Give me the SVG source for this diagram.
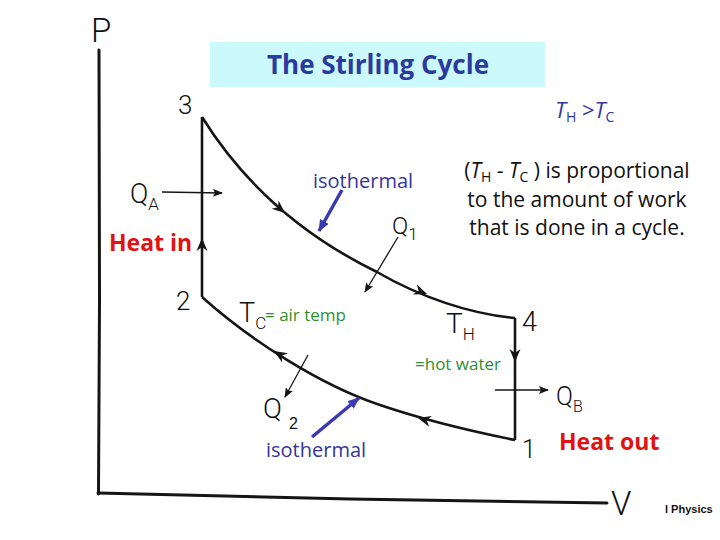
<svg xmlns="http://www.w3.org/2000/svg" width="720" height="540" viewBox="0 0 720 540">
<style>
.hand{font-family:Roboto,"Liberation Sans",sans-serif;font-weight:300;fill:#111}
.cal{font-family:"Open Sans","Liberation Sans",sans-serif}
.blue{fill:#35359a}
.green{fill:#2f8f2f}
.red{fill:#e01212;font-weight:700}
.axis{fill:none;stroke:#151515;stroke-width:3;stroke-linecap:round}
.curve{fill:none;stroke:#151515;stroke-width:2.6;stroke-linejoin:miter}
.thin{fill:none;stroke:#151515;stroke-width:1.3}
.barrow{fill:none;stroke:#3a3ab4;stroke-width:3.5}
</style>
<defs>
<path id="ah" d="M0,0 L-13,-5.5 L-9,0 L-13,5.5 Z" fill="#151515"/>
<marker id="sm" markerUnits="userSpaceOnUse" viewBox="0 0 10 8" refX="9" refY="4" markerWidth="10" markerHeight="8" orient="auto">
<path d="M0,0 L10,4 L0,8 L2,4 Z" fill="#151515"/>
</marker>
<marker id="bm" markerUnits="userSpaceOnUse" viewBox="0 0 12 10" refX="11" refY="5" markerWidth="12" markerHeight="10" orient="auto">
<path d="M0,0 L12,5 L0,10 Z" fill="#3a3ab4"/>
</marker>
</defs>

<g id="title">
<rect x="210" y="42" width="335" height="45" fill="#ccf9fc"/>
<text class="cal" x="378" y="74" text-anchor="middle" font-size="26" font-weight="700" fill="#2a3a9e">The Stirling Cycle</text>
</g>

<g id="axes">
<path class="axis" d="M99,50 L99.5,300 L98.5,494"/>
<path class="axis" d="M98,493 L350,499 L607,503"/>
<text class="hand" x="91" y="42" font-size="33">P</text>
<text class="hand" x="611" y="515" font-size="33">V</text>
</g>

<g id="connectors">
<path class="curve" d="M202,117 C240,178 295,232 377,272 C420,297 470,314 515,318"/>
<path class="curve" d="M515,318 L515,440"/>
<path class="curve" d="M202,297 C250,340 320,385 380,405 C430,422 480,433 515,440"/>
<path class="curve" d="M202,297 L202,117"/>
<use href="#ah" transform="translate(285,213) rotate(40)"/>
<use href="#ah" transform="translate(427,294) rotate(21)"/>
<use href="#ah" transform="translate(515,362) rotate(90)"/>
<use href="#ah" transform="translate(202,238) rotate(-90)"/>
<use href="#ah" transform="translate(274,351) rotate(212)"/>
<use href="#ah" transform="translate(418,418) rotate(195)"/>
<line class="thin" x1="162" y1="192" x2="222" y2="193" marker-end="url(#sm)"/>
<line class="thin" x1="495" y1="390" x2="548" y2="390" marker-end="url(#sm)"/>
<line class="thin" x1="398" y1="237" x2="365" y2="292" marker-end="url(#sm)"/>
<line class="thin" x1="308" y1="355" x2="285" y2="397" marker-end="url(#sm)"/>
<line class="barrow" x1="342" y1="190" x2="319" y2="231" marker-end="url(#bm)"/>
<line class="barrow" x1="312" y1="437" x2="359" y2="398" marker-end="url(#bm)"/>
</g>

<g id="point3"><text class="hand" x="178" y="114" font-size="26">3</text></g>
<g id="point2"><text class="hand" x="176" y="310" font-size="26">2</text></g>
<g id="point4"><text class="hand" x="522" y="331" font-size="27">4</text></g>
<g id="point1"><text class="hand" x="522" y="458" font-size="25">1</text></g>

<g id="QA"><text class="hand" x="130" y="203" font-size="27">Q<tspan font-size="17" dy="7">A</tspan></text></g>
<g id="Q1"><text class="hand" x="392" y="234" font-size="24">Q<tspan font-size="17" dy="6">1</tspan></text></g>
<g id="QB"><text class="hand" x="556" y="405" font-size="25">Q<tspan font-size="16" dy="7">B</tspan></text></g>
<g id="Q2"><text class="hand" x="263" y="418" font-size="28">Q</text><text x="289" y="429" font-family="'Liberation Sans',sans-serif" font-size="16" fill="#111">2</text></g>

<g id="heatin"><text class="cal red" x="109" y="251" font-size="23">Heat in</text></g>
<g id="heatout"><text class="cal red" x="559" y="450" font-size="23">Heat out</text></g>

<g id="iso1"><text class="cal blue" x="313" y="188" font-size="20">isothermal</text></g>
<g id="iso2"><text class="cal blue" x="266" y="457" font-size="20">isothermal</text></g>

<g id="TC"><text class="hand" x="239" y="322" font-size="27">T<tspan font-size="17" dy="7">C</tspan></text>
<text class="cal green" x="265" y="321" font-size="17">= air temp</text></g>
<g id="TH"><text class="hand" x="446" y="333" font-size="28">T<tspan font-size="17" dy="7">H</tspan></text>
<text class="cal green" x="415" y="370" font-size="17">=hot water</text></g>

<g id="ineq"><text class="cal blue" x="555" y="118" font-size="22"><tspan font-style="italic">T</tspan><tspan font-size="14" dy="4">H</tspan><tspan dy="-4"> &gt;</tspan><tspan font-style="italic">T</tspan><tspan font-size="14" dy="4">C</tspan></text></g>

<g id="note" class="cal" fill="#111" font-size="21" text-anchor="middle">
<text x="577" y="178">(<tspan font-style="italic">T</tspan><tspan font-size="14" dy="4">H</tspan><tspan dy="-4"> - </tspan><tspan font-style="italic">T</tspan><tspan font-size="14" dy="4">C</tspan><tspan dy="-4"> ) is proportional</tspan></text>
<text x="577" y="207">to the amount of work</text>
<text x="577" y="235">that is done in a cycle.</text>
</g>

<g id="footer"><text x="665" y="513" font-family="'Liberation Sans',sans-serif" font-weight="700" font-size="11" fill="#111">l Physics</text></g>
</svg>
